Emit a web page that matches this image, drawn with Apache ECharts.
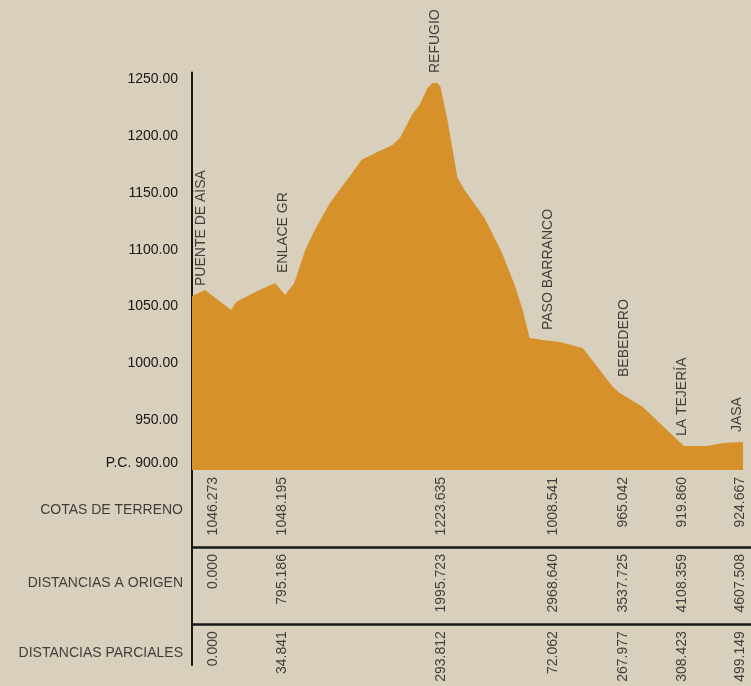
<!DOCTYPE html>
<html><head><meta charset="utf-8">
<script src="https://cdn.jsdelivr.net/npm/echarts@6/dist/echarts.min.js"></script>
<style>html,body{margin:0;padding:0;background:#d8cfbc;}#c{width:751px;height:686px;}</style>
</head><body><div id="c"></div>
<script>
// ---- data ----
const stationNames = ['PUENTE DE AÍSA', 'ENLACE GR', 'REFUGIO', 'PASO BARRANCO', 'BEBEDERO', 'LA TEJERÍA', 'JASA'];
const cotasTerreno = [1046.273, 1048.195, 1223.635, 1008.541, 965.042, 919.860, 924.667];
const distOrigen = [0.000, 795.186, 1995.723, 2968.640, 3537.725, 4108.359, 4607.508];
const distParciales = [0.000, 34.841, 293.812, 72.062, 267.977, 308.423, 499.149];
const rowTitles = ['COTAS DE TERRENO', 'DISTANCIAS A ORIGEN', 'DISTANCIAS PARCIALES'];
const datumLabel = 'P.C. 900.00';
const profileDist = [0, 109, 327, 369, 545, 695, 779, 855, 896, 947, 1022, 1148, 1232, 1315, 1416, 1550, 1676, 1743, 1843, 1902, 1969, 2011, 2052, 2078, 2136, 2220, 2279, 2446, 2589, 2698, 2765, 2823, 2932, 3075, 3267, 3410, 3519, 3577, 3770, 3954, 4113, 4306, 4440, 4607.508];
const profileElev = [1059.2, 1064.5, 1046.9, 1053.9, 1063.6, 1070.6, 1060.1, 1070.6, 1083.8, 1099.7, 1116.4, 1140.2, 1152.5, 1164.0, 1178.9, 1186.0, 1192.1, 1199.2, 1219.4, 1227.4, 1242.3, 1246.7, 1246.7, 1243.2, 1214.2, 1163.1, 1152.5, 1127.9, 1097.9, 1068.9, 1046.9, 1022.2, 1020.4, 1018.7, 1013.4, 994.0, 979.1, 973.8, 961.5, 943.0, 927.1, 927.1, 929.8, 930.6];

// ---- layout / style ----
const yMin = 906, yMax = 1256, xMax = 4674;
const tableMax = 2.53;
const titleRowPos = [0.52, 1.47, 2.38];
const nameShift = [9, -4, 4, 1, 9, -1, -6];
const valueShift = [21, -5, 10, 6, 8, -1, -3];
const FONT = "'Liberation Sans', Arial, sans-serif";
const INK = '#161818';
const ORANGE = '#d6912b';

const profile = profileDist.map((d, i) => [d, profileElev[i]]);

// label anchor: highest profile point near each station
// (labels are rotated 90deg, so a screen x shift is the label's local y offset)
const nameData = distOrigen.map((d, i) => {
  let m = -Infinity;
  profileDist.forEach((pd, j) => { if (Math.abs(pd - d) <= 100) m = Math.max(m, profileElev[j]); });
  return { value: [d, m], name: stationNames[i], label: { offset: [0, nameShift[i]] } };
});

function tableRow(values, row) {
  return values.map((v, i) => ({ value: [distOrigen[i], row], txt: v.toFixed(3), label: { offset: [0, valueShift[i]] } }));
}
const tableData = [].concat(tableRow(cotasTerreno, 0), tableRow(distOrigen, 1), tableRow(distParciales, 2));

const chart = echarts.init(document.getElementById('c'));
chart.setOption({
  animation: false,
  backgroundColor: '#d8cfbc',
  grid: [
    { left: 192, right: 0, top: 72.5, bottom: 216 },
    { left: 192, right: 0, top: 470, bottom: 21 }
  ],
  xAxis: [
    { gridIndex: 0, type: 'value', min: 0, max: xMax, show: false },
    { gridIndex: 1, type: 'value', min: 0, max: xMax, show: false }
  ],
  yAxis: [
    {
      gridIndex: 0, type: 'value', min: yMin, max: yMax, splitNumber: 7,
      axisLine: { show: true, lineStyle: { color: INK, width: 2 } },
      axisTick: { show: false }, splitLine: { show: false },
      axisLabel: {
        margin: 14, color: INK, fontSize: 14, fontFamily: FONT,
        formatter: v => v === yMin ? '{pc|' + datumLabel + '}' : (v > 1250 ? '' : v.toFixed(2)),
        rich: { pc: { fontSize: 14, fontFamily: FONT, color: INK, padding: [0, 0, 14, 0] } }
      }
    },
    {
      gridIndex: 1, type: 'value', min: 0, max: tableMax, interval: 1, inverse: true,
      axisLine: { show: true, lineStyle: { color: INK, width: 2 } },
      axisTick: { show: false }, axisLabel: { show: false },
      splitLine: { show: true, showMinLine: false, showMaxLine: false, lineStyle: { color: INK, width: 2.5 } }
    }
  ],
  series: [
    {
      type: 'line', xAxisIndex: 0, yAxisIndex: 0, data: profile,
      showSymbol: false, symbol: 'none', lineStyle: { width: 0 },
      areaStyle: { color: ORANGE, opacity: 1, origin: 'start' }, silent: true, z: 1
    },
    {
      type: 'scatter', xAxisIndex: 0, yAxisIndex: 0, data: nameData,
      symbolSize: 0, silent: true, z: 3,
      label: {
        show: true, position: [0, -10], rotate: 90, align: 'left', verticalAlign: 'middle',
        formatter: p => p.name, color: INK, fontSize: 14, fontFamily: FONT
      }
    },
    {
      type: 'scatter', xAxisIndex: 1, yAxisIndex: 1, data: tableData,
      symbolSize: 0, silent: true, z: 3,
      label: {
        show: true, position: [0, 7], rotate: 90, align: 'right', verticalAlign: 'middle',
        formatter: p => p.data.txt, color: INK, fontSize: 14, fontFamily: FONT
      }
    },
    {
      type: 'scatter', xAxisIndex: 1, yAxisIndex: 1,
      data: rowTitles.map((t, i) => ({ value: [0, titleRowPos[i]], name: t })),
      symbolSize: 0, silent: true, z: 3,
      label: {
        show: true, position: 'left', distance: 9, formatter: p => p.name,
        color: INK, fontSize: 14, fontFamily: FONT
      }
    }
  ]
});
</script></body></html>
